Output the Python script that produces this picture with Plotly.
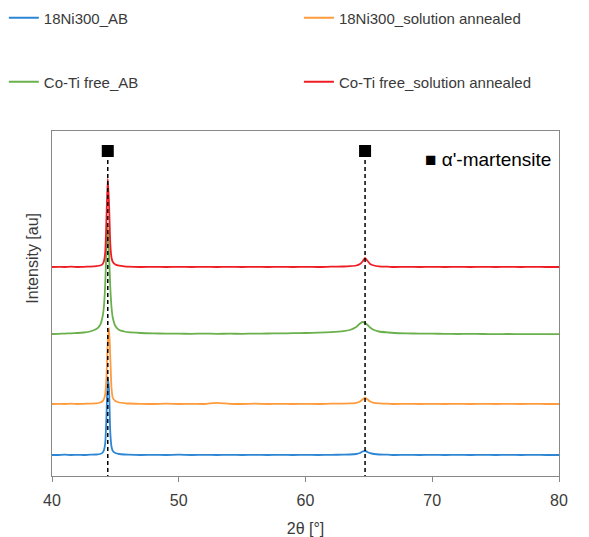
import plotly.graph_objects as go

# ---------------- data (arbitrary intensity units, stacked as plotted) ----
two_theta = [
    40, 40.5, 41, 41.5, 42, 42.5, 43,
    43.5, 43.8, 44.0, 44.1, 44.2, 44.3, 44.4, 44.5, 44.6, 44.7, 44.8, 45.0, 45.3, 45.7,
    46, 47, 48, 49, 50, 51, 52, 53, 54, 55, 56, 57, 58, 59, 60, 61, 62, 63,
    63.5, 64.0, 64.3, 64.5, 64.7, 64.9, 65.1, 65.4, 65.8,
    66.5, 67, 68, 69, 70, 71, 72, 73, 74, 75, 76, 77, 78, 79, 80,
]

ni300_ab = [
    21, 21, 21.3, 21, 21.2, 21, 21.3,
    21.5, 22, 23.5, 26, 33, 61, 99, 86, 43, 29, 25, 23, 22, 21.5,
    21.3, 21, 21.2, 21, 21.3, 21, 21.2, 21, 21.1, 21, 21.2, 21, 21.2, 21, 21.1, 21, 21.2, 21.3,
    21.5, 22, 23, 24.5, 25, 24, 22.8, 22, 21.5,
    21.3, 21, 21.2, 21, 21.1, 21, 21.2, 21, 21.1, 21, 21.2, 21, 21.1, 21, 21,
]

ni300_sa = [
    72, 72.2, 72, 72.3, 72, 72.2, 72.4,
    72.6, 73.5, 75, 77, 82, 100, 134, 148, 118, 87, 78, 75, 73.5, 72.8,
    72.5, 72.2, 72, 72.3, 72, 72.2, 72, 73.2, 72.2, 72, 72.3, 72, 72.2, 72, 72.2, 72, 72.3, 72.4,
    72.6, 73.2, 74.5, 76.5, 78, 76.5, 74.5, 73.2, 72.6,
    72.3, 72, 72.2, 72, 72.1, 72, 72.2, 72, 72.1, 72, 72.2, 72, 72.1, 72, 72,
]

coti_ab = [
    142, 142.2, 142.4, 142.7, 143, 143.5, 144.5,
    147, 151, 160, 170, 192, 228, 250, 222, 188, 168, 158, 150, 146, 144.5,
    143.8, 143, 142.6, 142.4, 142.3, 142.2, 142.4, 142.2, 142.3, 142.2, 142.4, 142.5, 142.6, 142.8, 143, 143.3, 143.8, 144.8,
    146, 149, 152.5, 154, 153, 151, 148.5, 146, 144.5,
    143.5, 143, 142.6, 142.4, 142.3, 142.2, 142, 142.1, 142, 141.9, 142, 141.8, 141.9, 141.8, 141.8,
]

coti_sa = [
    209, 209.2, 209, 209.3, 209, 209.2, 209.4,
    209.8, 210.5, 212, 215, 224, 259, 297, 272, 232, 218, 214, 211.5, 210.3, 209.6,
    209.3, 209, 209.2, 209, 209.1, 209, 209.2, 209, 209.1, 209, 209.2, 209, 209.1, 209, 209.2, 209, 209.3, 209.5,
    209.8, 210.5, 212, 214.5, 218, 215, 212, 210.5, 209.7,
    209.3, 209, 209.2, 209, 209.1, 209, 209.2, 209, 209.1, 209, 209.2, 209, 209.1, 209, 209,
]

series_names = ["18Ni300_AB", "18Ni300_solution annealed", "Co-Ti free_AB", "Co-Ti free_solution annealed"]
series_values = [ni300_ab, ni300_sa, coti_ab, coti_sa]

martensite_peaks = [44.4, 64.7]
marker_level = [325, 325]

x_ticks = [40, 50, 60, 70, 80]

# ---------------- styling ----------------
colors = ["#2c86d4", "#ff9b3d", "#6ab04c", "#ee1d23"]
legend_ids = ["legend", "legend2", "legend3", "legend4"]
legend_pos = [(-0.095, 1.3275), (0.487, 1.3275), (-0.095, 1.142), (0.487, 1.142)]
FONT = "Liberation Sans, Arial, sans-serif"
TXT = "#3a3a3a"

fig = go.Figure()

for name, vals, col, lg in zip(series_names, series_values, colors, legend_ids):
    fig.add_trace(go.Scatter(
        x=two_theta, y=vals, name=name, mode="lines",
        line=dict(color=col, width=1.8, shape="spline", smoothing=0.6),
        legend=lg,
    ))

# dashed reference lines for alpha'-martensite peaks
for xp, yl in zip(martensite_peaks, marker_level):
    fig.add_shape(type="line", xref="x", yref="y", x0=xp, x1=xp, y0=-3, y1=yl,
                  line=dict(color="black", width=1.5, dash="4px,3px"), layer="above")

fig.add_trace(go.Scatter(
    x=martensite_peaks, y=marker_level, mode="markers", showlegend=False,
    marker=dict(symbol="square", size=12, color="black"),
))

fig.add_annotation(
    x=0.988, y=0.916, xref="paper", yref="paper", xanchor="right", yanchor="middle",
    text="■ α'-martensite", showarrow=False, font=dict(family=FONT, size=19, color="black"),
)

fig.add_annotation(
    x=-0.038, y=0.632, xref="paper", yref="paper", xanchor="center", yanchor="middle",
    text="Intensity [au]", textangle=-90, showarrow=False,
    font=dict(family=FONT, size=16, color=TXT),
)

legends = {}
for lg, (lx, ly) in zip(legend_ids, legend_pos):
    legends[lg] = dict(
        x=lx, y=ly, orientation="h", xanchor="left", yanchor="middle",
        font=dict(family=FONT, size=15, color=TXT),
        bgcolor="rgba(0,0,0,0)", itemwidth=30,
    )

# The page body adds an 8px offset; figure size/margins compensate so the
# plot area lands at the same place as in the reference photo.
fig.update_layout(
    width=581, height=529,
    margin=dict(l=44, r=30, t=123, b=61, autoexpand=False),
    paper_bgcolor="white", plot_bgcolor="white",
    font=dict(family=FONT, size=15, color=TXT),
    xaxis=dict(
        range=[40, 80], tickvals=x_ticks, ticks="outside", ticklen=5, tickcolor="#888",
        showline=True, linecolor="#888", linewidth=1, mirror=True, showgrid=False, zeroline=False,
        tickfont=dict(family=FONT, size=16, color=TXT), ticklabelstandoff=5,
        title=dict(text="2θ [°]", font=dict(family=FONT, size=16, color=TXT), standoff=25),
    ),
    yaxis=dict(
        range=[0, 345], showticklabels=False, ticks="", showgrid=False, zeroline=False,
        showline=True, linecolor="#888", linewidth=1, mirror=True,
    ),
    **legends,
)

fig.write_html("out.html")
